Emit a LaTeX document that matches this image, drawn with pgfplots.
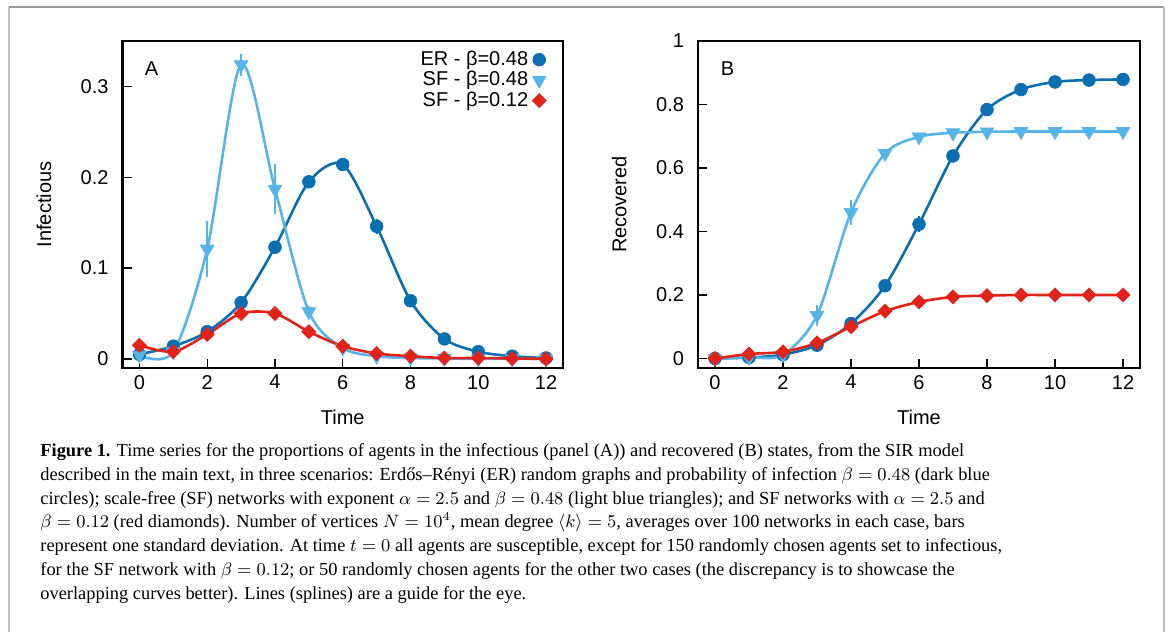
\documentclass[border=0pt]{standalone}
\usepackage{pgfplots}
\pgfplotsset{compat=1.18}
\usepackage{fontspec}
\setmainfont{Liberation Serif}
\newfontfamily\chartfont{Liberation Sans}
\definecolor{cER}{HTML}{0A6FB0}
\definecolor{cSF}{HTML}{56B4E9}
\definecolor{cSFr}{HTML}{E2231A}
\begin{document}
\begin{tikzpicture}
\useasboundingbox (0,0) rectangle (584bp,-316bp);
\draw[line width=1bp, color=black!25] (4.25bp,-316bp) -- (4.25bp,-3.25bp);
\draw[line width=1bp, color=black!40] (4.25bp,-3.25bp) -- (582bp,-3.25bp);
\draw[line width=1bp, color=black!25] (582bp,-3.25bp) -- (582bp,-316bp);

\pgfplotsset{
 every axis/.append style={
  scale only axis, height=163.5bp,
  font=\chartfont\fontsize{10bp}{12bp}\selectfont,
  xmin=-0.5, xmax=12.5, xtick={0,2,...,12},
  tick align=inside, tick pos=left, major tick length=4.5bp,
  axis line style={line width=1.1bp},
  tick style={line width=0.6bp, black},
  /pgf/number format/assume math mode=true,
  yticklabel style={xshift=-3.5bp},
  xlabel=Time,
  every axis x label/.style={at={(axis description cs:0.5,-0.15)},anchor=center},
  every axis y label/.style={at={(axis description cs:-0.178,0.5)},rotate=90,anchor=center},
  error bars/y dir=both, error bars/y explicit, error bars/error mark=none,
  error bars/error bar style={line width=1.1bp},
 },
 er/.style={color=cER, line width=1.3bp, mark=*, mark size=3.2bp, mark options={line width=0.3bp}},
 sf/.style={color=cSF, line width=1.3bp, mark=triangle*, mark size=4bp, mark options={rotate=180, line width=0.3bp}},
 sfr/.style={color=cSFr, line width=1.3bp, mark=square*, mark size=2.5bp, mark options={rotate=45, line width=0.3bp}},
}

\begin{axis}[at={(61.25bp,-184bp)}, anchor=south west, width=220.25bp,
  ymin=-0.01, ymax=0.35, ytick={0,0.1,0.2,0.3}, ylabel=Infectious,
  legend cell align=right, legend plot pos=right,
  legend style={draw=none, fill=none, at={(axis description cs:0.963,0.983)}, anchor=north east,
    inner sep=0pt, row sep=-2.5bp,
    font=\chartfont\fontsize{10bp}{12bp}\selectfont},
  legend image code/.code={\draw[mark repeat=2,mark phase=2,#1] plot coordinates {(0bp,0bp)(12bp,0bp)(16bp,0bp)};},
]
\addlegendimage{er, only marks}
\addlegendimage{sf, only marks}
\addlegendimage{sfr, only marks}
\legend{ER - β=0.48, SF - β=0.48, SF - β=0.12}
\addplot[er, smooth, forget plot] coordinates {
(0,0.005) +- (0,0.001) (1,0.014) +- (0,0.002) (2,0.030) +- (0,0.003) (3,0.062) +- (0,0.004)
(4,0.123) +- (0,0.006) (5,0.195) +- (0,0.006) (6,0.214) +- (0,0.004) (7,0.146) +- (0,0.008)
(8,0.064) +- (0,0.005) (9,0.022) +- (0,0.002) (10,0.008) +- (0,0.001) (11,0.003) +- (0,0.001)
(12,0.001) +- (0,0.001)};
\addplot[sf, smooth, forget plot] coordinates {
(0,0.004) +- (0,0.001) (1,0.008) +- (0,0.002) (2,0.121) +- (0,0.031) (3,0.324) +- (0,0.012)
(4,0.187) +- (0,0.028) (5,0.052) +- (0,0.006) (6,0.012) +- (0,0.002) (7,0.003) +- (0,0.001)
(8,0.001) +- (0,0) (9,0.0005) +- (0,0) (10,0) +- (0,0) (11,0) +- (0,0) (12,0) +- (0,0)};
\addplot[sfr, smooth, forget plot] coordinates {
(0,0.015) +- (0,0.001) (1,0.008) +- (0,0.001) (2,0.027) +- (0,0.002) (3,0.050) +- (0,0.003)
(4,0.050) +- (0,0.003) (5,0.030) +- (0,0.002) (6,0.014) +- (0,0.001) (7,0.006) +- (0,0.001)
(8,0.003) +- (0,0) (9,0.001) +- (0,0) (10,0.001) +- (0,0) (11,0.0005) +- (0,0) (12,0) +- (0,0)};
\node[anchor=center] at (rel axis cs:0.066,0.917) {A};
\end{axis}

\begin{axis}[at={(349bp,-184bp)}, anchor=south west, width=221bp,
  ymin=-0.03, ymax=1, ytick={0,0.2,0.4,0.6,0.8,1}, ylabel=Recovered]
\addplot[er, smooth] coordinates {
(0,0) +- (0,0.001) (1,0.003) +- (0,0.001) (2,0.012) +- (0,0.002) (3,0.042) +- (0,0.004)
(4,0.110) +- (0,0.008) (5,0.229) +- (0,0.012) (6,0.423) +- (0,0.025) (7,0.638) +- (0,0.02)
(8,0.784) +- (0,0.01) (9,0.847) +- (0,0.005) (10,0.871) +- (0,0.003) (11,0.877) +- (0,0.002)
(12,0.879) +- (0,0.002)};
\addplot[sf, smooth] coordinates {
(0,0) +- (0,0.001) (1,0.003) +- (0,0.001) (2,0.012) +- (0,0.003) (3,0.136) +- (0,0.033)
(4,0.460) +- (0,0.038) (5,0.646) +- (0,0.012) (6,0.698) +- (0,0.005) (7,0.711) +- (0,0.003)
(8,0.714) +- (0,0.002) (9,0.715) +- (0,0.002) (10,0.715) +- (0,0.002) (11,0.715) +- (0,0.002)
(12,0.715) +- (0,0.002)};
\addplot[sfr, smooth] coordinates {
(0,0) +- (0,0.001) (1,0.014) +- (0,0.001) (2,0.021) +- (0,0.002) (3,0.049) +- (0,0.003)
(4,0.100) +- (0,0.004) (5,0.149) +- (0,0.004) (6,0.178) +- (0,0.003) (7,0.194) +- (0,0.002)
(8,0.198) +- (0,0.002) (9,0.200) +- (0,0.001) (10,0.200) +- (0,0.001) (11,0.200) +- (0,0.001)
(12,0.200) +- (0,0.001)};
\node[anchor=center] at (rel axis cs:0.067,0.917) {B};
\end{axis}

\node[anchor=base west, inner sep=0pt, align=left, font=\fontsize{9.2bp}{11.85bp}\selectfont] at (20bp,-299.5bp) {%
\textbf{Figure 1.} Time series for the proportions of agents in the infectious (panel (A)) and recovered (B) states, from the SIR model\\
described in the main text, in three scenarios: Erdős–Rényi (ER) random graphs and probability of infection $\beta = 0.48$ (dark blue\\
circles); scale-free (SF) networks with exponent $\alpha = 2.5$ and $\beta = 0.48$ (light blue triangles); and SF networks with $\alpha = 2.5$ and\\
$\beta = 0.12$ (red diamonds). Number of vertices $N = 10^4$, mean degree $\langle k\rangle = 5$, averages over 100 networks in each case, bars\\
represent one standard deviation. At time $t = 0$ all agents are susceptible, except for 150 randomly chosen agents set to infectious,\\
for the SF network with $\beta = 0.12$; or 50 randomly chosen agents for the other two cases (the discrepancy is to showcase the\\
overlapping curves better). Lines (splines) are a guide for the eye.};
\end{tikzpicture}
\end{document}
